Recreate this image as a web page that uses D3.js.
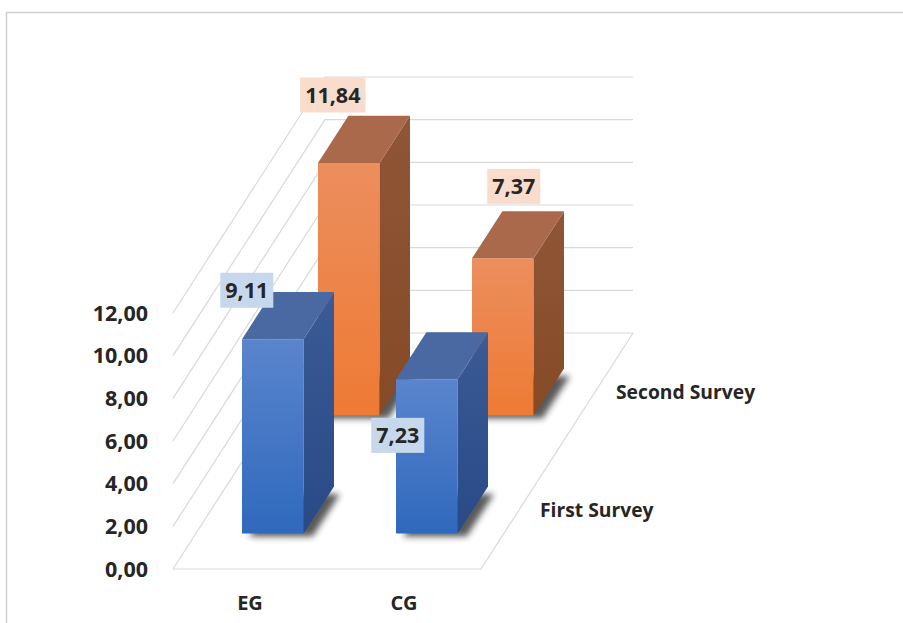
<!DOCTYPE html>
<html>
<head>
<meta charset="utf-8">
<script src="https://cdn.jsdelivr.net/npm/d3@7"></script>
<style>
  html, body { margin: 0; padding: 0; background: #ffffff; }
  svg { display: block; }
  text { font-family: "Open Sans", "DejaVu Sans", sans-serif; font-weight: bold; fill: #262626; }
</style>
</head>
<body>
<svg id="chart" width="903" height="623"></svg>
<script>
// ---- data ----
const categories = ["EG", "CG"];
const seriesNames = ["First Survey", "Second Survey"];
const firstSurvey = [9.11, 7.23];
const secondSurvey = [11.84, 7.37];
const yTicks = [0, 2, 4, 6, 8, 10, 12];

const seriesValues = [firstSurvey, secondSurvey];
const fmt = v => d3.format(".2f")(v).replace(".", ",");

// ---- geometry ----
const svg = d3.select("#chart");
const originX = 173, originY = 569;      // front-left floor corner
const depthDX = 152, depthDY = 236;      // full-depth oblique offset

const x = d3.scaleBand().domain(categories).range([0, 308]);
const y = d3.scaleLinear().domain([0, 12]).range([0, 256]);
const z = d3.scaleBand().domain(seriesNames).range([0, 1]);

function P(px, v, d) {
  return [originX + px + d * depthDX, originY - y(v) - d * depthDY];
}
const line = d3.line();

// outer frame
svg.append("rect").attr("x", 6.5).attr("y", 12.5).attr("width", 1000).attr("height", 1000)
  .attr("fill", "none").attr("stroke", "#d0d0d0").attr("stroke-width", 1.5);

const grid = svg.append("g").attr("stroke", "#d9d9d9").attr("stroke-width", 1.2).attr("fill", "none");
const W = x.range()[1];
// left wall and back wall gridlines
yTicks.forEach(t => {
  grid.append("path").attr("d", line([P(0, t, 0), P(0, t, 1), P(W, t, 1)]));
});
// floor outline
grid.append("path").attr("d", line([P(0, 0, 0), P(W, 0, 0), P(W, 0, 1)]));

// y-axis tick labels
svg.append("g").selectAll("text").data(yTicks).join("text")
  .attr("x", 148).attr("y", d => P(0, d, 0)[1])
  .attr("dy", "0.35em").attr("text-anchor", "end")
  .attr("font-size", 21.5).text(d => fmt(d));

// category labels
svg.append("g").selectAll("text").data(categories).join("text")
  .attr("x", d => P(x(d) + x.bandwidth() / 2, 0, 0)[0]).attr("y", 603)
  .attr("dy", "0.35em").attr("text-anchor", "middle")
  .attr("font-size", 20).text(d => d);

// series labels on right of floor
svg.append("g").selectAll("text").data(seriesNames).join("text")
  .attr("x", d => P(W, 0, z(d) + z.bandwidth() / 2)[0] + 21)
  .attr("y", d => P(W, 0, z(d) + z.bandwidth() / 2)[1])
  .attr("dy", "0.35em").attr("font-size", 19.3).text(d => d);

// gradients & shadow
const defs = svg.append("defs");
const palettes = [
  { front: ["#5a85cd", "#2f69bd"], top: "#4a68a2", side: ["#3b5a96", "#284a86"], label: "#c8d8ec" },
  { front: ["#ec8e5e", "#ee7a33"], top: "#a9694a", side: ["#8f5637", "#864a26"], label: "#f9dccb" }
];
palettes.forEach((p, i) => {
  const g = defs.append("linearGradient").attr("id", "front" + i).attr("x1", 0).attr("y1", 0).attr("x2", 0).attr("y2", 1);
  g.append("stop").attr("offset", "0%").attr("stop-color", p.front[0]);
  g.append("stop").attr("offset", "100%").attr("stop-color", p.front[1]);
  const s = defs.append("linearGradient").attr("id", "side" + i).attr("x1", 0).attr("y1", 0).attr("x2", 0).attr("y2", 1);
  s.append("stop").attr("offset", "0%").attr("stop-color", p.side[0]);
  s.append("stop").attr("offset", "100%").attr("stop-color", p.side[1]);
});
const f = defs.append("filter").attr("id", "shadow").attr("x", "-20%").attr("y", "-20%").attr("width", "150%").attr("height", "150%");
f.append("feGaussianBlur").attr("stdDeviation", 3);

// bars: back row first
const barW = x.bandwidth() * 0.4;
const barD = z.bandwidth() * 0.4;
const bars = [];
seriesNames.forEach((s, si) => {
  categories.forEach((c, ci) => {
    const x0 = x(c) + (x.bandwidth() - barW) / 2, x1 = x0 + barW;
    const d0 = z(s) + (z.bandwidth() - barD) / 2, d1 = d0 + barD;
    bars.push({ si, ci, v: seriesValues[si][ci], x0, x1, d0, d1 });
  });
});
bars.sort((a, b) => b.si - a.si || a.ci - b.ci);

const barG = svg.append("g");
bars.forEach(b => {
  const g = barG.append("g");
  const v = b.v;
  // shadow on the floor
  g.append("path")
    .attr("d", line([P(b.x0 + 4, 0, b.d0), P(b.x1 + 6, 0, b.d0), P(b.x1 + 6, 0, b.d1 - 0.02), P(b.x0 + 4, 0, b.d1 - 0.02)]) + "Z")
    .attr("transform", "translate(3,3)")
    .attr("fill", "#222").attr("opacity", 0.75).attr("filter", "url(#shadow)");
  // front
  g.append("path").attr("d", line([P(b.x0, 0, b.d0), P(b.x1, 0, b.d0), P(b.x1, v, b.d0), P(b.x0, v, b.d0)]) + "Z")
    .attr("fill", `url(#front${b.si})`);
  // side
  g.append("path").attr("d", line([P(b.x1, 0, b.d0), P(b.x1, 0, b.d1), P(b.x1, v, b.d1), P(b.x1, v, b.d0)]) + "Z")
    .attr("fill", `url(#side${b.si})`);
  // top
  g.append("path").attr("d", line([P(b.x0, v, b.d0), P(b.x1, v, b.d0), P(b.x1, v, b.d1), P(b.x0, v, b.d1)]) + "Z")
    .attr("fill", palettes[b.si].top);
});

// data labels (offsets relative to top-front-center of each bar)
const labelOffsets = { "0-0": [-26, -49], "0-1": [-29, 56], "1-0": [-16, -68], "1-1": [11, -72] };
const labG = svg.append("g");
bars.forEach(b => {
  const [cx, cy] = P((b.x0 + b.x1) / 2, b.v, b.d0);
  const off = labelOffsets[b.si + "-" + b.ci];
  const t = labG.append("text").attr("x", cx + off[0]).attr("y", cy + off[1])
    .attr("dy", "0.35em").attr("text-anchor", "middle").attr("font-size", 21.5).text(fmt(b.v));
  const bb = t.node().getBBox();
  labG.insert("rect", () => t.node())
    .attr("x", bb.x - 5).attr("y", cy + off[1] - 17.5).attr("width", bb.width + 10).attr("height", 35)
    .attr("fill", palettes[b.si].label);
});
</script>
</body>
</html>
